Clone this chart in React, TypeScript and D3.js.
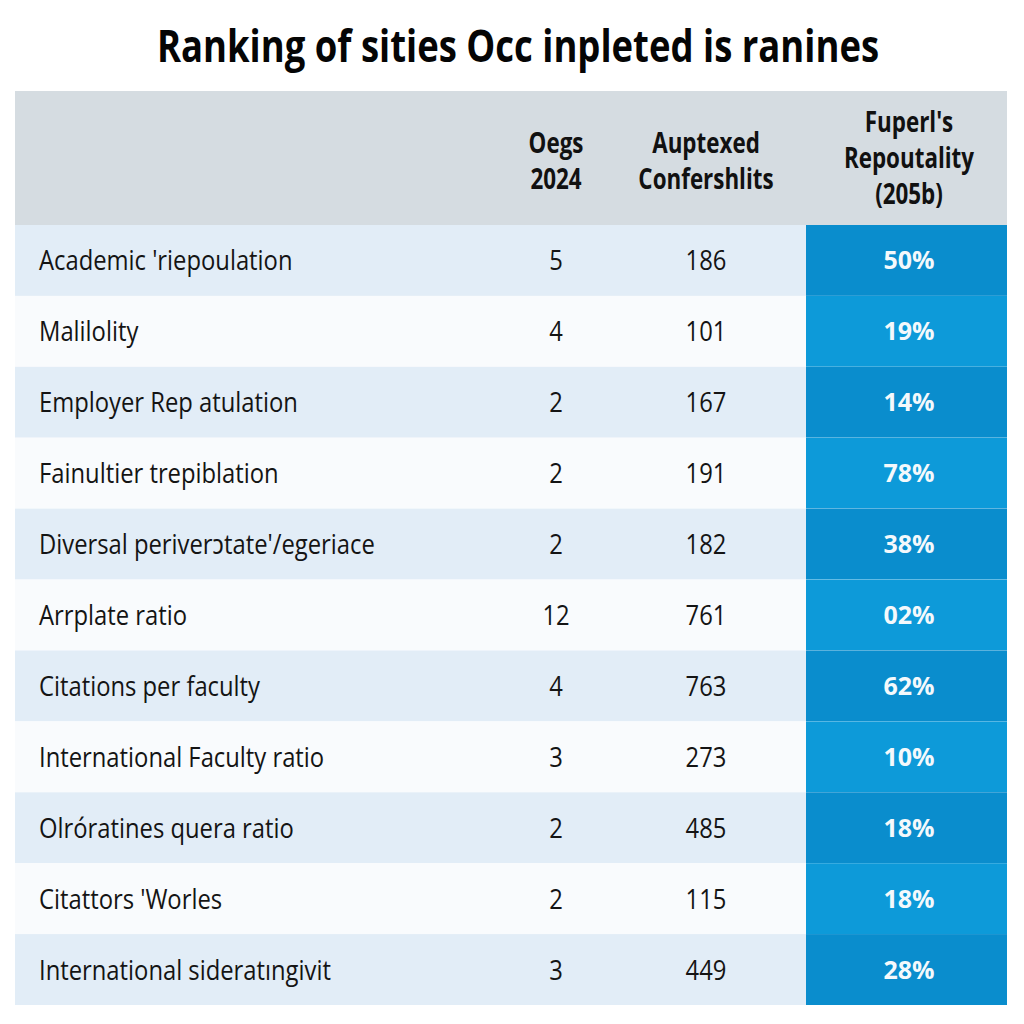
import React, { useLayoutEffect, useRef, useState } from "react";
import * as d3 from "d3";

const title = "Ranking of sities Occ inpleted is ranines";
const headerCol1 = ["Oegs", "2024"];
const headerCol2 = ["Auptexed", "Confershlits"];
const headerCol3 = ["Fuperl's", "Repoutality", "(205b)"];

const categories = [
  "Academic 'riepoulation",
  "Malilolity",
  "Employer Rep atulation",
  "Fainultier trepiblation",
  "Diversal periverɔtate'/egeriace",
  "Arrplate ratio",
  "Citations per faculty",
  "International Faculty ratio",
  "Olróratines quera ratio",
  "Citattors 'Worles",
  "International sideratıngivit",
];
const oegs2024 = [5, 4, 2, 2, 2, 12, 4, 3, 2, 2, 3];
const auptexed = [186, 101, 167, 191, 182, 761, 763, 273, 485, 115, 449];
const repoutality = ["50%", "19%", "14%", "78%", "38%", "02%", "62%", "10%", "18%", "18%", "28%"];

const W = 1024;
const H = 1024;
const tableLeft = 15;
const tableRight = 1007;
const headerTop = 91;
const headerBottom = 225;
const tableBottom = 1005;
const blueColLeft = 806;
const titleWidth = 722;

const BODY = "'Open Sans', 'Noto Sans', sans-serif";
const SX_BODY = 0.85;
const SX_HEAD = 0.8;

function SText(props: {
  x: number;
  y: number;
  sx: number;
  anchor?: string;
  size: number;
  weight?: string | number;
  fill: string;
  family: string;
  children: React.ReactNode;
}) {
  return (
    <text
      transform={`translate(${props.x},${props.y}) scale(${props.sx},1)`}
      textAnchor={props.anchor || "start"}
      fontFamily={props.family}
      fontSize={props.size}
      fontWeight={props.weight || "normal"}
      fill={props.fill}
    >
      {props.children}
    </text>
  );
}

export default function App() {
  const titleRef = useRef<SVGTextElement>(null);
  const [titleSx, setTitleSx] = useState(0.75);

  useLayoutEffect(() => {
    if (titleRef.current) {
      const len = titleRef.current.getComputedTextLength();
      if (len > 0) setTitleSx(titleWidth / len);
    }
  }, []);

  const y = d3
    .scaleBand<string>()
    .domain(categories)
    .range([headerBottom, tableBottom])
    .paddingInner(0)
    .paddingOuter(0);

  const colCenters = d3
    .scaleOrdinal<string, number>()
    .domain(["label", "oegs", "aup", "rep"])
    .range([39, 556, 706, 909]);

  const bh = y.bandwidth();

  return (
    <svg
      width={W}
      height={H}
      style={{ position: "absolute", left: 0, top: 0, background: "#ffffff" }}
    >
      <rect x={0} y={0} width={W} height={H} fill="#ffffff" />
      <text
        ref={titleRef}
        transform={`translate(518,62) scale(${titleSx},1)`}
        textAnchor="middle"
        fontFamily={BODY}
        fontWeight="bold"
        fontSize={44}
        fill="#050505"
      >
        {title}
      </text>

      {/* header */}
      <rect
        x={tableLeft}
        y={headerTop}
        width={tableRight - tableLeft}
        height={headerBottom - headerTop}
        fill="#d5dce1"
      />
      {headerCol1.map((t, i) => (
        <SText key={"h1" + i} x={colCenters("oegs")} y={153 + i * 36} sx={SX_HEAD} anchor="middle"
          family={BODY} weight="bold" size={28} fill="#111">
          {t}
        </SText>
      ))}
      {headerCol2.map((t, i) => (
        <SText key={"h2" + i} x={colCenters("aup")} y={153 + i * 36} sx={SX_HEAD} anchor="middle"
          family={BODY} weight="bold" size={28} fill="#111">
          {t}
        </SText>
      ))}
      {headerCol3.map((t, i) => (
        <SText key={"h3" + i} x={colCenters("rep")} y={132 + i * 36} sx={SX_HEAD} anchor="middle"
          family={BODY} weight="bold" size={28} fill="#111">
          {t}
        </SText>
      ))}

      {/* rows */}
      {categories.map((c, i) => {
        const y0 = y(c) as number;
        const cy = y0 + bh / 2;
        const even = i % 2 === 0;
        return (
          <g key={c}>
            <rect
              x={tableLeft}
              y={y0}
              width={tableRight - tableLeft}
              height={bh}
              fill={even ? "#e2edf7" : "#f9fbfd"}
            />
            <rect
              x={blueColLeft}
              y={y0}
              width={tableRight - blueColLeft}
              height={bh}
              fill={even ? "#0a8dcd" : "#0d9ad9"}
            />
            <SText x={colCenters("label")} y={cy + 10} sx={SX_BODY} family={BODY} size={28} fill="#141414">
              {c}
            </SText>
            <SText x={colCenters("oegs")} y={cy + 10} sx={SX_BODY} anchor="middle" family={BODY} size={28} fill="#141414">
              {oegs2024[i]}
            </SText>
            <SText x={colCenters("aup")} y={cy + 10} sx={SX_BODY} anchor="middle" family={BODY} size={28} fill="#141414">
              {auptexed[i]}
            </SText>
            <SText x={colCenters("rep")} y={cy + 9} sx={1} anchor="middle" family={BODY} weight="bold" size={25} fill="#f4f9fc">
              {repoutality[i]}
            </SText>
          </g>
        );
      })}
    </svg>
  );
}
